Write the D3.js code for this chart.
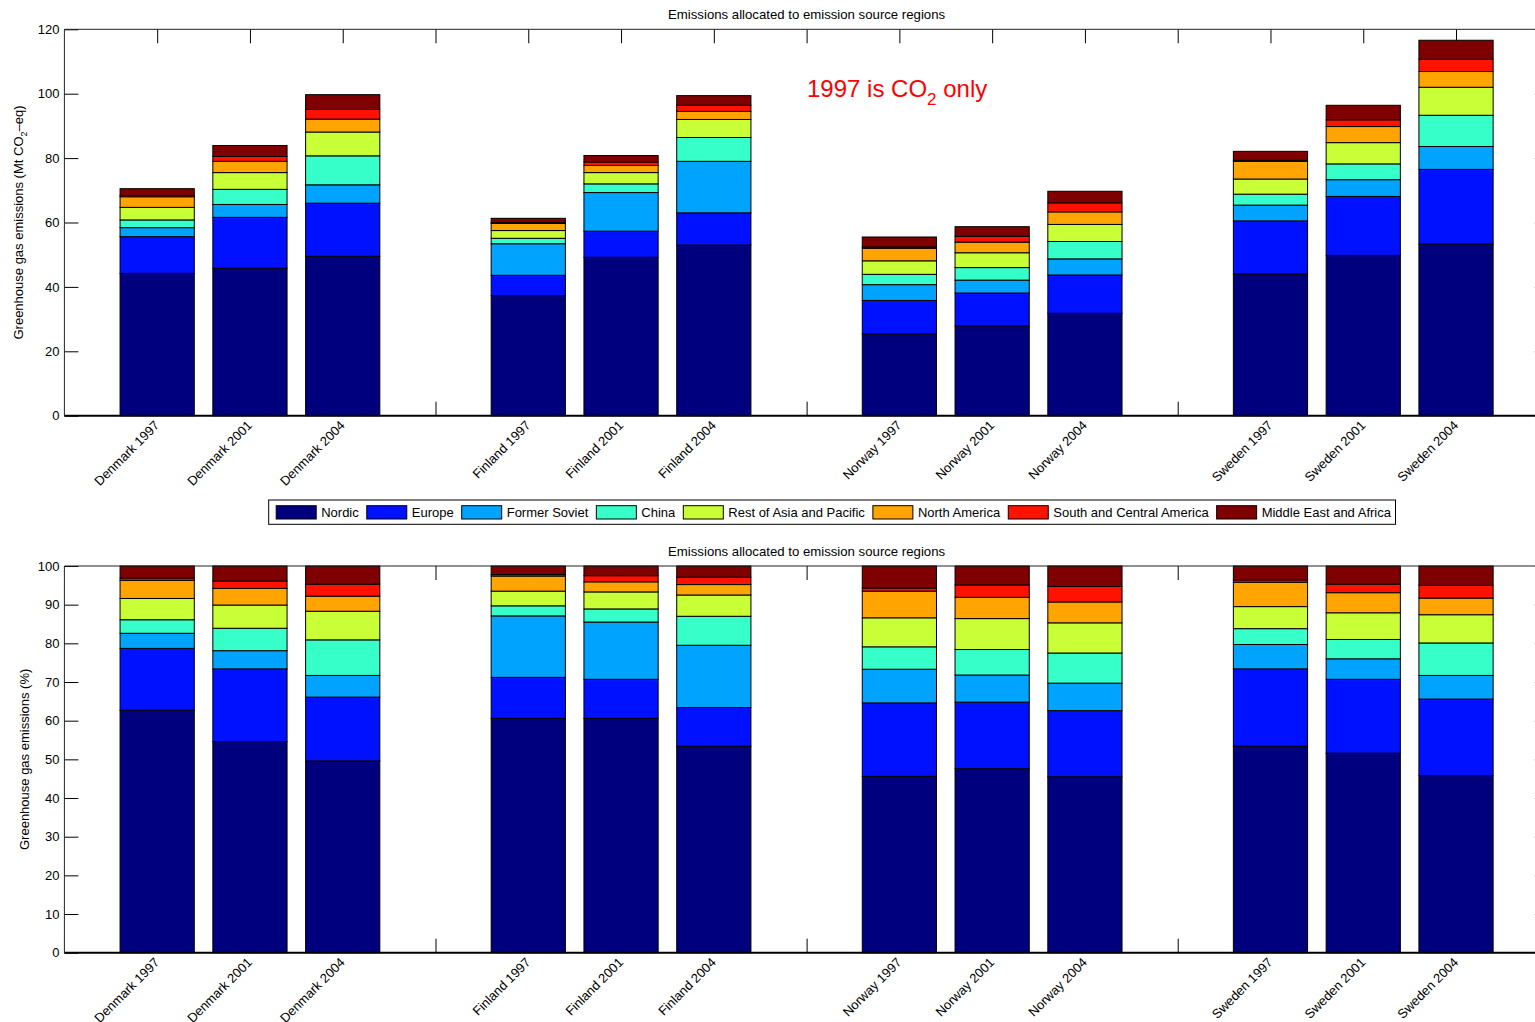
<!DOCTYPE html>
<html>
<head>
<meta charset="utf-8">
<title>Emissions allocated to emission source regions</title>
<script src="https://cdnjs.cloudflare.com/ajax/libs/d3/7.8.5/d3.min.js"></script>
<style>
  html, body { margin: 0; padding: 0; background: #fff; }
  svg { display: block; }
  text { font-family: "Liberation Sans", Arial, Helvetica, sans-serif; fill: #000; }
</style>
</head>
<body>
<svg id="chart" width="1535" height="1022"></svg>
<script>
// Bar slots; empty strings are spacer slots between countries.
const categories = [
  "Denmark 1997", "Denmark 2001", "Denmark 2004", "",
  "Finland 1997", "Finland 2001", "Finland 2004", "",
  "Norway 1997", "Norway 2001", "Norway 2004", "",
  "Sweden 1997", "Sweden 2001", "Sweden 2004"
];

const regions = [
  "Nordic", "Europe", "Former Soviet", "China",
  "Rest of Asia and Pacific", "North America",
  "South and Central America", "Middle East and Africa"
];

const regionColors = [
  "#00007f", "#0011ff", "#00a4ff", "#36ffc9",
  "#c9ff36", "#ffa400", "#ff1200", "#7f0000"
];

// Emissions by source region (Mt CO2-eq)
const mtNordic       = [44.2, 45.8, 49.5, 0, 37.3, 49.2, 53.0, 0, 25.4, 27.9, 31.8, 0, 44.0, 49.8, 53.3];
const mtEurope       = [11.4, 15.8, 16.5, 0,  6.3,  8.1, 10.0, 0, 10.4, 10.2, 11.9, 0, 16.5, 18.3, 23.2];
const mtFormerSoviet = [ 2.8,  4.0,  5.7, 0,  9.8, 12.0, 16.0, 0,  4.9,  4.0,  5.0, 0,  4.9,  5.2,  7.1];
const mtChina        = [ 2.4,  4.7,  9.0, 0,  1.7,  2.7,  7.4, 0,  3.2,  3.9,  5.4, 0,  3.4,  4.9,  9.7];
const mtRestOfAsia   = [ 3.9,  5.2,  7.4, 0,  2.4,  3.5,  5.6, 0,  4.2,  4.6,  5.3, 0,  4.7,  6.6,  8.7];
const mtNorthAmerica = [ 3.3,  3.5,  4.0, 0,  2.2,  2.2,  2.5, 0,  3.9,  3.3,  3.9, 0,  5.5,  5.0,  4.9];
const mtSouthAmerica = [ 0.4,  1.5,  3.0, 0,  0.3,  1.1,  1.9, 0,  0.4,  1.8,  2.8, 0,  0.3,  2.1,  3.8];
const mtMiddleEast   = [ 2.1,  3.4,  4.6, 0,  1.3,  2.0,  3.0, 0,  3.1,  3.0,  3.6, 0,  2.8,  4.5,  5.9];

// Share of each bar's total (%)
const pctNordic       = [62.7, 54.6, 49.6, 0, 60.6, 60.6, 53.4, 0, 45.6, 47.6, 45.5, 0, 53.4, 51.6, 45.8];
const pctEurope       = [16.0, 18.8, 16.5, 0, 10.6, 10.1, 10.0, 0, 19.0, 17.2, 17.1, 0, 20.0, 19.1, 19.8];
const pctFormerSoviet = [ 3.9,  4.7,  5.6, 0, 15.9, 14.8, 16.1, 0,  8.7,  7.0,  7.1, 0,  6.3,  5.3,  6.1];
const pctChina        = [ 3.5,  5.8,  9.2, 0,  2.6,  3.4,  7.5, 0,  5.8,  6.6,  7.8, 0,  4.1,  5.0,  8.4];
const pctRestOfAsia   = [ 5.5,  6.0,  7.4, 0,  3.8,  4.4,  5.5, 0,  7.5,  8.0,  7.8, 0,  5.7,  6.9,  7.3];
const pctNorthAmerica = [ 4.7,  4.3,  3.9, 0,  3.9,  2.6,  2.7, 0,  6.9,  5.5,  5.4, 0,  6.3,  5.2,  4.3];
const pctSouthAmerica = [ 0.6,  1.9,  3.1, 0,  0.4,  1.6,  1.9, 0,  0.8,  3.2,  4.0, 0,  0.6,  2.2,  3.3];
const pctMiddleEast   = [ 3.1,  3.9,  4.7, 0,  2.2,  2.5,  2.9, 0,  5.7,  4.9,  5.3, 0,  3.6,  4.7,  5.0];

const mtTicks  = [0, 20, 40, 60, 80, 100, 120];
const pctTicks = [0, 10, 20, 30, 40, 50, 60, 70, 80, 90, 100];

const chartTitle = "Emissions allocated to emission source regions";

const svg = d3.select("#chart");

// Shared horizontal scale: slot positions 1..15 inside a 0..16 range
const x = d3.scaleLinear().domain([0, categories.length + 1]).range([64.4, 1548.8]);
const barWidth = x(0.8) - x(0);
const slots = d3.range(1, categories.length + 1);

function buildRows(series) {
  return categories.map((c, i) => {
    const row = { slot: i + 1, label: c };
    regions.forEach((r, k) => { row[r] = series[k][i]; });
    return row;
  });
}

function drawPanel(opts) {
  const g = svg.append("g");
  const y = d3.scaleLinear().domain(opts.domain).range([opts.bottom, opts.top]);
  const left = x.range()[0], right = x.range()[1];
  const tickLen = 14;

  // title
  g.append("text")
    .attr("x", (left + right) / 2)
    .attr("y", opts.top - 10)
    .attr("text-anchor", "middle")
    .style("font-size", "13.2px")
    .text(chartTitle);

  // y axis ticks on both sides, pointing inward
  const yAxis = d3.axisLeft(y).tickValues(opts.ticks).tickSize(-tickLen).tickPadding(5);
  const ya = g.append("g").attr("transform", `translate(${left},0)`).call(yAxis);
  ya.select(".domain").remove();
  ya.selectAll("line").attr("stroke", "#000");
  ya.selectAll("text").style("font-size", "13px").style("font-family", "'Liberation Sans', Arial, sans-serif").attr("fill", "#000");

  const yr = g.append("g").attr("transform", `translate(${right},0)`)
    .call(d3.axisRight(y).tickValues(opts.ticks).tickSize(-tickLen).tickFormat(""));
  yr.select(".domain").remove();
  yr.selectAll("line").attr("stroke", "#000");

  // x ticks on top and bottom, pointing inward
  const xb = g.append("g").attr("transform", `translate(0,${opts.bottom})`)
    .call(d3.axisBottom(x).tickValues(slots).tickSize(-tickLen).tickFormat(""));
  xb.select(".domain").remove();
  xb.selectAll("line").attr("stroke", "#000");
  const xt = g.append("g").attr("transform", `translate(0,${opts.top})`)
    .call(d3.axisTop(x).tickValues(slots).tickSize(-tickLen).tickFormat(""));
  xt.select(".domain").remove();
  xt.selectAll("line").attr("stroke", "#000");

  // stacked bars
  const rows = buildRows(opts.series);
  const stacked = d3.stack().keys(regions)(rows);
  const layers = g.append("g").selectAll("g")
    .data(stacked)
    .join("g")
    .attr("fill", (d, k) => regionColors[k]);
  layers.selectAll("rect")
    .data(d => d)
    .join("rect")
    .attr("x", d => x(d.data.slot) - barWidth / 2)
    .attr("width", barWidth)
    .attr("y", d => y(d[1]))
    .attr("height", d => Math.max(0, y(d[0]) - y(d[1])))
    .attr("stroke", "#000")
    .attr("stroke-width", 1);

  // box
  g.append("path")
    .attr("d", `M${left},${opts.bottom}V${opts.top}H${right}V${opts.bottom}`)
    .attr("fill", "none").attr("stroke", "#222").attr("stroke-width", 1);
  g.append("line")
    .attr("x1", left).attr("x2", right)
    .attr("y1", opts.bottom).attr("y2", opts.bottom)
    .attr("stroke", "#000").attr("stroke-width", 2);

  // rotated category labels
  g.append("g").selectAll("text")
    .data(rows.filter(r => r.label !== ""))
    .join("text")
    .attr("transform", d => `translate(${x(d.slot) + 3},${opts.bottom + 10.5}) rotate(-45)`)
    .attr("text-anchor", "end")
    .style("font-size", "13px")
    .text(d => d.label);

  // y label
  const yl = g.append("text")
    .attr("transform", `translate(${opts.ylabelX},${(opts.top + opts.bottom) / 2}) rotate(-90)`)
    .attr("text-anchor", "middle")
    .style("font-size", "13px");
  opts.ylabel(yl);

  return { g, y };
}

// Absolute emissions
const upperPanel = drawPanel({
  top: 29.3, bottom: 415.7, domain: [0, 120], ticks: mtTicks, ylabelX: 23,
  series: [mtNordic, mtEurope, mtFormerSoviet, mtChina, mtRestOfAsia, mtNorthAmerica, mtSouthAmerica, mtMiddleEast],
  ylabel: t => {
    t.append("tspan").text("Greenhouse gas emissions (Mt CO");
    t.append("tspan").attr("dy", 4).style("font-size", "9px").text("2");
    t.append("tspan").attr("dy", -4).text("\u2013eq)");
  }
});

// Note on the first inventory year
const note = upperPanel.g.append("text")
  .attr("x", 807).attr("y", 97)
  .style("font-size", "24px")
  .style("fill", "#ff0000");
note.append("tspan").text("1997 is CO");
note.append("tspan").attr("dy", 8).style("font-size", "17px").text("2");
note.append("tspan").attr("dy", -8).text(" only");

// Percentage shares
drawPanel({
  top: 566, bottom: 952.7, domain: [0, 100], ticks: pctTicks, ylabelX: 29,
  series: [pctNordic, pctEurope, pctFormerSoviet, pctChina, pctRestOfAsia, pctNorthAmerica, pctSouthAmerica, pctMiddleEast],
  ylabel: t => t.text("Greenhouse gas emissions (%)")
});

// Legend
const legend = svg.append("g");
const lgTop = 500, lgBottom = 524.3, lgLeft = 268.7;
let cx = lgLeft + 7.5;
const items = legend.append("g");
regions.forEach((r, k) => {
  items.append("rect")
    .attr("x", cx).attr("y", 505.7).attr("width", 40).attr("height", 13.3)
    .attr("fill", regionColors[k]).attr("stroke", "#000").attr("stroke-width", 1);
  const t = items.append("text")
    .attr("x", cx + 45).attr("y", 517)
    .style("font-size", "13px")
    .text(r);
  cx += 45 + t.node().getComputedTextLength() + 8;
});
legend.insert("rect", ":first-child")
  .attr("x", lgLeft).attr("y", lgTop)
  .attr("width", cx - 8 + 4.5 - lgLeft).attr("height", lgBottom - lgTop)
  .attr("fill", "#fff").attr("stroke", "#000").attr("stroke-width", 1);
</script>
</body>
</html>
